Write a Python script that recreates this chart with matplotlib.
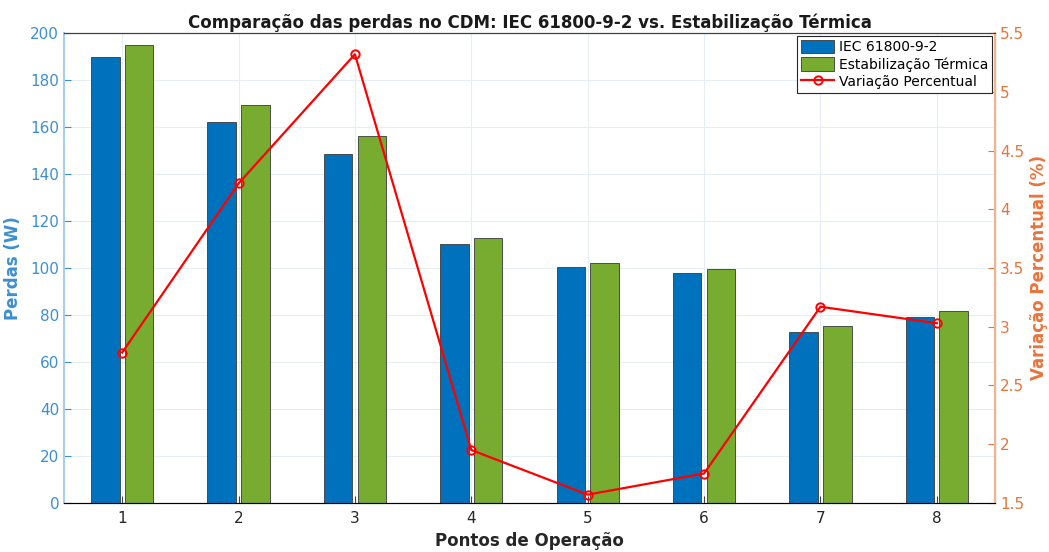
import matplotlib.pyplot as plt
import numpy as np

pontos = [1, 2, 3, 4, 5, 6, 7, 8]
perdas_iec = [189.8, 162.1, 148.4, 110.1, 100.3, 97.8, 72.8, 79.0]
perdas_estab = [194.9, 169.6, 156.3, 112.7, 102.0, 99.5, 75.3, 81.6]
variacao = [2.78, 4.22, 5.32, 1.95, 1.57, 1.75, 3.17, 3.03]

left_color = "#3d8fd1"
right_color = "#e8743b"

fig = plt.figure(figsize=(10.49, 5.52), dpi=100)
ax = fig.add_axes([0.061, 0.089, 0.8875, 0.851])
x = np.array(pontos)
b1 = ax.bar(x - 0.145, perdas_iec, width=0.245, color="#0072BD", edgecolor="#3a3a3a",
            linewidth=0.6, label="IEC 61800-9-2", zorder=2)
b2 = ax.bar(x + 0.145, perdas_estab, width=0.245, color="#77AC30", edgecolor="#3a3a3a",
            linewidth=0.6, label="Estabilização Térmica", zorder=2)
ax.set_xlim(0.5, 8.5)
ax.set_ylim(0, 200)
ax.set_yticks(np.arange(0, 201, 20))
ax.set_xticks(pontos)
ax.grid(True, color="#e6eef5", linewidth=0.8, zorder=0)
ax.set_axisbelow(True)
ax.tick_params(axis="y", colors=left_color, labelsize=11, direction="in", length=5)
ax.tick_params(axis="x", colors="#404040", labelsize=11, direction="in", length=5, pad=6)
for lbl in ax.get_xticklabels():
    lbl.set_color("#262626")
ax.set_ylabel("Perdas (W)", color=left_color, fontsize=12, fontweight="bold", labelpad=6)
ax.set_xlabel("Pontos de Operação", color="#262626", fontsize=12, fontweight="bold")
ax.set_title("Comparação das perdas no CDM: IEC 61800-9-2 vs. Estabilização Térmica",
             fontsize=12, fontweight="bold", color="#1a1a1a", pad=4)
ax.spines["left"].set_color("#a9cdee")
ax.spines["left"].set_linewidth(1.5)
ax.spines["bottom"].set_color("#404040")
ax.spines["top"].set_color("#404040")

ax2 = ax.twinx()
line, = ax2.plot(x, variacao, color="#FF0000", linewidth=1.6, marker="o", markersize=6,
                 markerfacecolor="none", markeredgewidth=1.4, label="Variação Percentual")
ax2.set_ylim(1.5, 5.5)
ax2.set_yticks(np.arange(1.5, 5.51, 0.5))
ax2.set_yticklabels(["1.5", "2", "2.5", "3", "3.5", "4", "4.5", "5", "5.5"])
ax2.tick_params(axis="y", colors=right_color, labelsize=11, direction="in", length=5)
ax2.set_ylabel("Variação Percentual (%)", color=right_color, fontsize=12, fontweight="bold")
ax2.spines["right"].set_color("#f0b48f")
ax2.spines["right"].set_linewidth(1.5)
ax2.spines["left"].set_visible(False)
ax2.spines["top"].set_color("#404040")

leg = ax2.legend(handles=[b1, b2, line], loc="upper right", fontsize=10,
                 fancybox=False, edgecolor="#262626", borderpad=0.3,
                 handlelength=2.4, handleheight=1.1, handletextpad=0.3,
                 labelspacing=0.2, borderaxespad=0.2, framealpha=1)
leg.get_frame().set_linewidth(0.8)

fig.savefig("out.png", dpi=100)
